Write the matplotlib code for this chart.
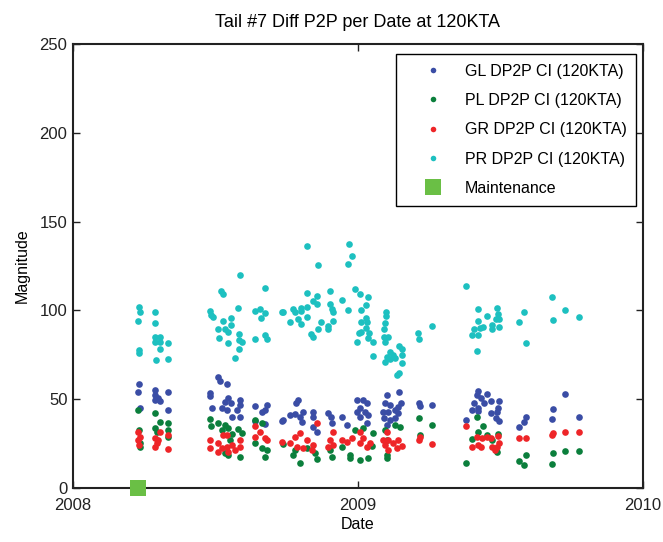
# ── TAIL #7 DIFF P2P PER DATE ───────────────────────────────────
import matplotlib
matplotlib.use('Agg')
import matplotlib.pyplot as plt

plt.rcParams['font.family'] = ['Liberation Sans', 'DejaVu Sans']

# ── DATA (date as fractional year, magnitude) ────────────────────
gl_date = [2008.232, 2008.228, 2008.235, 2008.288, 2008.288, 2008.298, 2008.305, 2008.288,
           2008.333, 2008.333, 2008.509, 2008.516, 2008.540, 2008.481, 2008.481, 2008.488,
           2008.544, 2008.533, 2008.554, 2008.523, 2008.540, 2008.558, 2008.586, 2008.586,
           2008.575, 2008.586, 2008.639, 2008.639, 2008.681, 2008.674, 2008.663, 2008.674,
           2008.733, 2008.789, 2008.782, 2008.737, 2008.761, 2008.779, 2008.807, 2008.796,
           2008.804, 2008.842, 2008.842, 2008.856, 2008.842, 2008.895, 2008.905, 2008.909,
           2008.944, 2008.961, 2008.996, 2009.018, 2009.032, 2009.007, 2008.996, 2009.025,
           2009.007, 2009.035, 2009.032, 2009.102, 2009.095, 2009.112, 2009.088, 2009.105,
           2009.130, 2009.140, 2009.151, 2009.144, 2009.091, 2009.112, 2009.130, 2009.140,
           2009.102, 2009.214, 2009.218, 2009.260, 2009.421, 2009.418, 2009.432, 2009.453,
           2009.407, 2009.442, 2009.467, 2009.495, 2009.491, 2009.421, 2009.400, 2009.421,
           2009.488, 2009.467, 2009.484, 2009.495, 2009.379, 2009.589, 2009.582, 2009.565,
           2009.726, 2009.684, 2009.681, 2009.775]
gl_mag = [58.4, 53.9, 44.9, 55.1, 52.2, 50.6, 48.9, 49.4, 53.9, 43.8, 62.4, 60.1, 58.4, 53.4,
          51.7, 44.9, 50.6, 48.3, 47.8, 44.9, 43.8, 39.9, 49.4, 46.6, 43.8, 39.9, 46.1, 37.6,
          46.6, 43.8, 42.7, 36.0, 37.6, 49.4, 47.8, 38.2, 41.0, 41.6, 42.7, 39.9, 37.1, 42.7,
          39.9, 31.5, 34.3, 42.1, 39.9, 36.5, 39.9, 35.4, 49.4, 49.4, 47.8, 44.9, 42.7, 42.7,
          39.9, 41.0, 36.5, 52.2, 47.8, 46.6, 42.7, 42.7, 43.8, 45.5, 47.8, 53.9, 39.3, 38.2,
          39.3, 42.1, 35.4, 47.8, 46.1, 46.6, 54.5, 52.2, 50.6, 52.8, 47.8, 47.8, 48.9, 48.9,
          44.9, 44.9, 43.8, 43.3, 42.7, 42.1, 39.3, 37.6, 38.2, 39.9, 37.1, 34.3, 52.8, 44.4,
          38.8, 39.9]

pl_date = [2008.228, 2008.232, 2008.235, 2008.235, 2008.288, 2008.305, 2008.288, 2008.295,
           2008.333, 2008.333, 2008.333, 2008.481, 2008.484, 2008.509, 2008.533, 2008.544,
           2008.523, 2008.579, 2008.593, 2008.558, 2008.551, 2008.533, 2008.586, 2008.544,
           2008.639, 2008.663, 2008.639, 2008.663, 2008.674, 2008.681, 2008.737, 2008.779,
           2008.772, 2008.796, 2008.821, 2008.849, 2008.856, 2008.902, 2008.909, 2008.944,
           2008.972, 2008.972, 2009.007, 2009.035, 2008.989, 2009.018, 2009.053, 2009.049,
           2009.095, 2009.102, 2009.102, 2009.130, 2009.147, 2009.102, 2009.214, 2009.260,
           2009.218, 2009.418, 2009.439, 2009.421, 2009.400, 2009.453, 2009.491, 2009.470,
           2009.488, 2009.379, 2009.589, 2009.565, 2009.582, 2009.684, 2009.681, 2009.726,
           2009.775]
pl_mag = [43.8, 32.6, 25.3, 23.0, 42.1, 37.1, 33.7, 31.5, 36.5, 32.6, 28.7, 38.8, 34.8, 36.5,
          35.4, 33.7, 32.6, 33.1, 30.9, 30.3, 27.0, 19.7, 17.4, 18.5, 38.2, 36.5, 25.3, 22.5,
          17.4, 21.3, 24.7, 21.3, 18.5, 14.0, 22.5, 19.7, 16.3, 21.3, 17.4, 23.0, 18.5, 16.9,
          15.7, 16.9, 32.6, 33.7, 30.9, 23.6, 32.6, 18.5, 16.9, 35.4, 34.3, 27.0, 39.3, 35.4,
          29.8, 39.9, 34.8, 31.5, 27.5, 29.8, 30.3, 27.0, 20.2, 14.0, 18.5, 15.2, 12.9, 19.7,
          13.5, 20.8, 20.8]

gr_date = [2008.228, 2008.228, 2008.235, 2008.232, 2008.288, 2008.295, 2008.288, 2008.305,
           2008.298, 2008.333, 2008.333, 2008.481, 2008.481, 2008.509, 2008.526, 2008.540,
           2008.523, 2008.540, 2008.558, 2008.568, 2008.586, 2008.586, 2008.544, 2008.509,
           2008.639, 2008.656, 2008.639, 2008.674, 2008.681, 2008.733, 2008.856, 2008.796,
           2008.779, 2008.761, 2008.786, 2008.821, 2008.842, 2008.839, 2008.807, 2008.912,
           2008.902, 2008.895, 2008.912, 2008.944, 2008.961, 2008.979, 2009.007, 2009.018,
           2009.007, 2009.032, 2009.042, 2009.102, 2009.088, 2009.105, 2009.123, 2009.140,
           2009.154, 2009.105, 2009.137, 2009.095, 2009.214, 2009.218, 2009.260, 2009.379,
           2009.418, 2009.435, 2009.453, 2009.467, 2009.491, 2009.400, 2009.421, 2009.432,
           2009.470, 2009.488, 2009.495, 2009.481, 2009.565, 2009.589, 2009.681, 2009.684,
           2009.726, 2009.775]
gr_mag = [31.5, 27.0, 28.7, 24.2, 28.1, 25.3, 23.0, 31.5, 27.0, 29.8, 21.9, 27.0, 22.5, 25.3,
          29.8, 29.8, 22.5, 23.0, 24.2, 21.3, 27.0, 23.0, 20.2, 20.2, 34.8, 31.5, 28.7, 28.1,
          27.0, 25.8, 36.5, 30.9, 28.7, 25.3, 23.0, 27.0, 24.2, 21.3, 22.5, 31.5, 27.0, 23.0,
          24.2, 27.0, 25.8, 28.1, 31.5, 28.1, 25.3, 23.0, 25.3, 31.5, 27.0, 27.0, 25.3, 27.0,
          23.6, 21.3, 22.5, 24.2, 27.0, 28.7, 24.7, 34.8, 28.7, 28.1, 28.7, 28.1, 29.2, 23.0,
          24.2, 23.0, 23.0, 23.0, 25.3, 21.3, 28.1, 28.1, 29.8, 30.9, 31.5, 31.5]

pr_date = [2008.232, 2008.235, 2008.228, 2008.232, 2008.232, 2008.288, 2008.288, 2008.288,
           2008.305, 2008.288, 2008.305, 2008.333, 2008.305, 2008.291, 2008.333, 2008.586,
           2008.519, 2008.526, 2008.674, 2008.579, 2008.481, 2008.484, 2008.491, 2008.526,
           2008.554, 2008.554, 2008.509, 2008.533, 2008.544, 2008.512, 2008.582, 2008.582,
           2008.593, 2008.544, 2008.582, 2008.568, 2008.639, 2008.656, 2008.674, 2008.660,
           2008.639, 2008.674, 2008.681, 2008.733, 2008.821, 2008.968, 2008.979, 2008.965,
           2008.860, 2008.821, 2008.856, 2008.902, 2008.989, 2009.007, 2009.035, 2008.842,
           2008.856, 2008.944, 2008.902, 2009.028, 2008.737, 2008.772, 2008.779, 2008.800,
           2008.821, 2008.800, 2008.909, 2008.912, 2008.965, 2009.011, 2009.098, 2009.098,
           2008.761, 2008.789, 2008.800, 2008.821, 2008.870, 2008.912, 2009.028, 2009.032,
           2009.011, 2009.095, 2008.895, 2008.895, 2008.860, 2008.835, 2008.842, 2009.028,
           2009.011, 2009.004, 2009.039, 2009.091, 2009.091, 2009.105, 2009.035, 2008.996,
           2009.053, 2009.095, 2009.144, 2009.154, 2009.154, 2009.112, 2009.123, 2009.102,
           2009.112, 2009.130, 2009.095, 2009.154, 2009.053, 2009.144, 2009.137, 2009.211,
           2009.214, 2009.379, 2009.260, 2009.681, 2009.726, 2009.684, 2009.775, 2009.582,
           2009.565, 2009.589, 2009.421, 2009.488, 2009.453, 2009.491, 2009.495, 2009.484,
           2009.421, 2009.470, 2009.439, 2009.428, 2009.407, 2009.470, 2009.495, 2009.400,
           2009.421, 2009.418]
pr_mag = [101.7, 98.9, 93.8, 77.5, 75.8, 98.9, 92.7, 84.8, 84.8, 82.0, 82.0, 81.5, 78.1, 71.9,
          72.5, 119.7, 110.7, 109.0, 112.9, 101.1, 99.4, 97.2, 96.1, 93.8, 95.5, 91.6, 89.3,
          89.3, 87.6, 84.3, 86.5, 83.1, 82.0, 81.5, 78.1, 73.0, 99.4, 100.6, 98.3, 95.5, 83.7,
          86.0, 83.7, 98.9, 136.0, 137.6, 130.9, 126.4, 125.8, 109.6, 107.9, 110.7, 111.8, 109.0,
          107.3, 105.1, 103.4, 105.6, 103.4, 102.8, 98.9, 100.6, 98.9, 101.1, 101.7, 99.4, 100.6,
          98.9, 100.0, 100.0, 98.9, 96.6, 93.3, 94.9, 92.1, 96.1, 93.3, 93.8, 95.5, 93.3, 93.3,
          92.7, 91.0, 89.3, 89.3, 86.5, 84.8, 89.9, 87.6, 87.1, 87.1, 89.3, 84.8, 84.8, 84.3,
          82.0, 82.0, 82.0, 79.8, 78.1, 74.7, 76.4, 74.7, 73.6, 72.5, 73.0, 70.8, 70.2, 74.2,
          64.6, 63.5, 87.1, 83.7, 114.0, 91.0, 107.3, 100.0, 94.4, 96.1, 98.9, 93.3, 81.5,
          100.6, 101.1, 96.6, 97.8, 94.9, 94.9, 93.8, 91.6, 90.4, 89.9, 89.3, 89.3, 90.4, 86.0,
          86.0, 77.0]

maint_date = [2008.228]
maint_mag = [0]

series = [
    ('GL DP2P CI (120KTA)', gl_date, gl_mag, '#3a4da5'),
    ('PL DP2P CI (120KTA)', pl_date, pl_mag, '#0b7f3c'),
    ('GR DP2P CI (120KTA)', gr_date, gr_mag, '#ee2528'),
    ('PR DP2P CI (120KTA)', pr_date, pr_mag, '#1dc0c0'),
]

# ── CHART ────────────────────────────────────────────────────────
fig = plt.figure(figsize=(6.63, 5.42), dpi=100)
ax = fig.add_axes([0.1101, 0.0996, 0.8597, 0.8192])

for name, d, m, c in series:
    ax.plot(d, m, linestyle='none', marker='o', markersize=4.8,
            markeredgewidth=0, color=c, label=name)
ax.plot(maint_date, maint_mag, linestyle='none', marker='s', markersize=12.2,
        markeredgewidth=0, color='#6abf45', label='Maintenance', clip_on=False,
        zorder=5)

ax.set_xlim(2008, 2010)
ax.set_ylim(0, 250)
ax.set_xticks([2008, 2009, 2010])
ax.set_yticks([0, 50, 100, 150, 200, 250])
ax.tick_params(direction='in', top=True, right=True, length=5, width=1,
               labelsize=12, colors='#222222')
ax.tick_params(axis='x', pad=7)
ax.tick_params(axis='y', pad=4)
for s in ax.spines.values():
    s.set_linewidth(1.5)
    s.set_color('#222222')

ax.set_title('Tail #7 Diff P2P per Date at 120KTA', fontsize=13, pad=12)
ax.set_xlabel('Date', fontsize=11.5, labelpad=3)
ax.set_ylabel('Magnitude', fontsize=11.5, labelpad=7)

leg = ax.legend(loc='upper right', fontsize=11.5, fancybox=False, framealpha=1,
                edgecolor='black', borderpad=0.6, labelspacing=0.9,
                handlelength=3.4, handletextpad=0.3, borderaxespad=0,
                bbox_to_anchor=(0.988, 0.9775))
leg.get_frame().set_linewidth(1.0)
for h in leg.legend_handles[:4]:
    h.set_markersize(4.0)
leg.legend_handles[4].set_markersize(12.2)

plt.savefig('out.png', dpi=100)
